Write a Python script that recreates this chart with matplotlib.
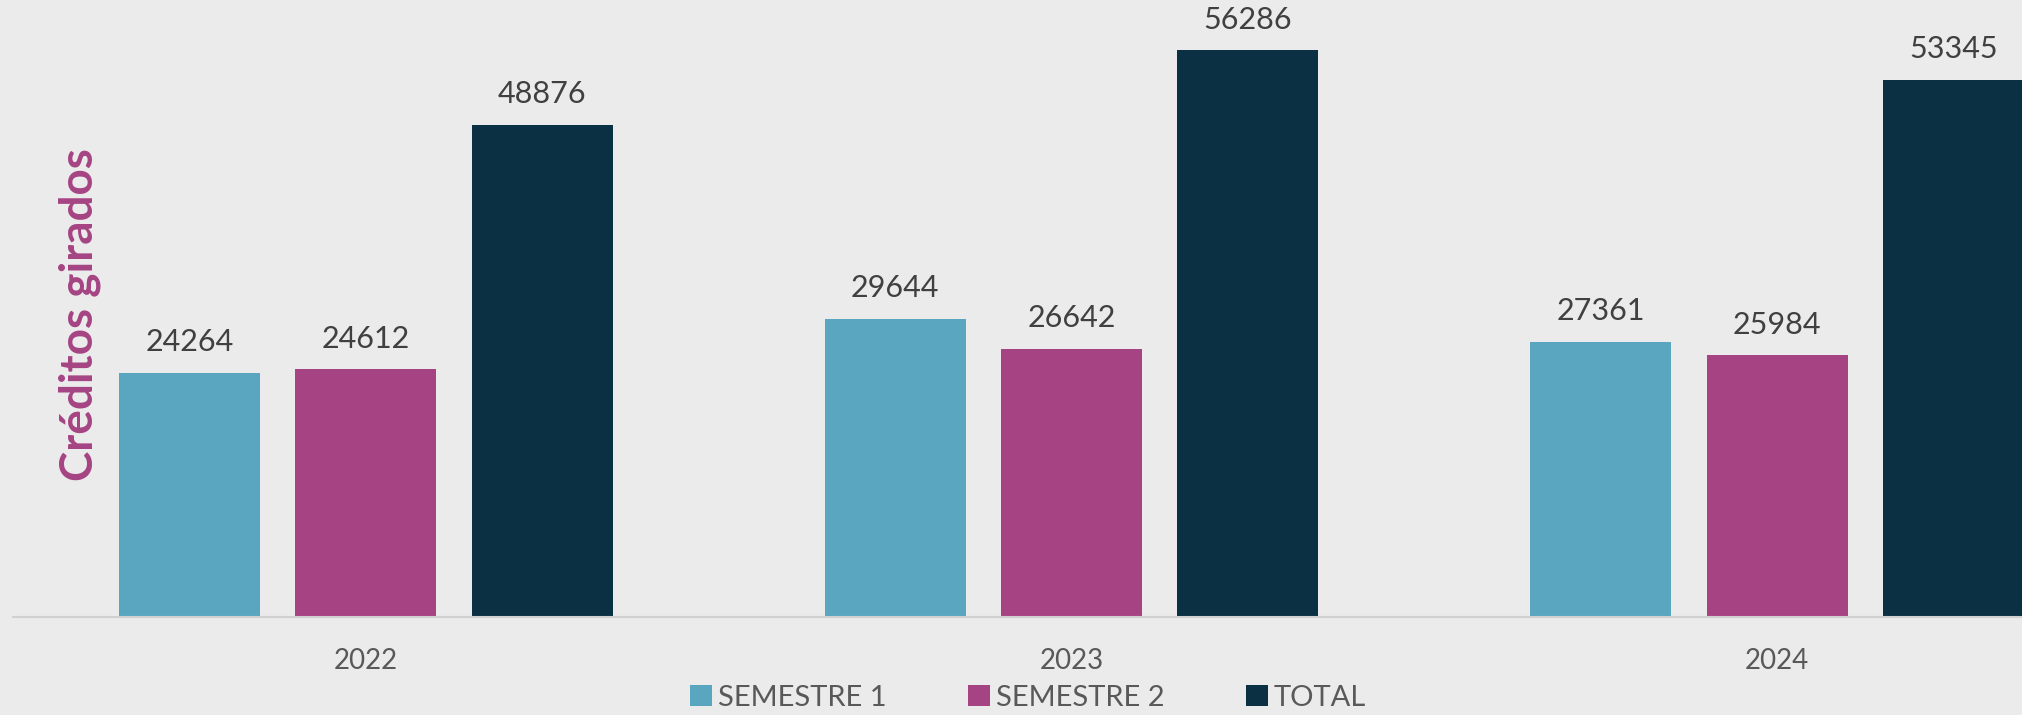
import matplotlib.pyplot as plt
import numpy as np

# data
years = ["2022", "2023", "2024"]
semestre1 = [24264, 29644, 27361]
semestre2 = [24612, 26642, 25984]
total = [48876, 56286, 53345]
series_names = ["SEMESTRE 1", "SEMESTRE 2", "TOTAL"]
colors = ["#5AA5C0", "#A64483", "#0B2F43"]

plt.rcParams['font.family'] = ['Lato', 'DejaVu Sans']

fig = plt.figure(figsize=(20.22, 7.15), dpi=100, facecolor="#EBEBEB")
# axes run past the right edge, like the original (last bar is cut off)
ax = fig.add_axes([13 / 2022, 98 / 715, 2117 / 2022, 604 / 715])
ax.set_facecolor("none")

x = np.arange(len(years))
width = 0.2
offsets = [-0.25, 0, 0.25]
for vals, off, col, name in zip([semestre1, semestre2, total], offsets, colors, series_names):
    bars = ax.bar(x + off, vals, width, color=col, label=name, zorder=2)
    ax.bar_label(bars, padding=12, fontsize=22, color="#404040")

ax.set_xlim(-0.5, 2.5)
ax.set_ylim(0, 60000)
ax.set_xticks(x)
ax.set_xticklabels(years, fontsize=20, color="#595959")
ax.tick_params(axis="x", length=0, pad=22)
ax.set_yticks([])
for s in ["top", "right", "left"]:
    ax.spines[s].set_visible(False)
ax.spines["bottom"].set_color("#D0D0D0")
ax.spines["bottom"].set_linewidth(1.5)

fig.text(80 / 2022, 400 / 715, "Créditos girados", rotation=90, ha="center", va="center",
         fontsize=33, fontweight="bold", color="#A64483")

fig.legend(loc="center", bbox_to_anchor=(1028 / 2022, 0.024), ncol=3, frameon=False,
           fontsize=21, labelcolor="#595959", handlelength=0.75, handleheight=0.75,
           handletextpad=0.2, columnspacing=2.8)

fig.savefig("out.png", dpi=100, facecolor=fig.get_facecolor())
